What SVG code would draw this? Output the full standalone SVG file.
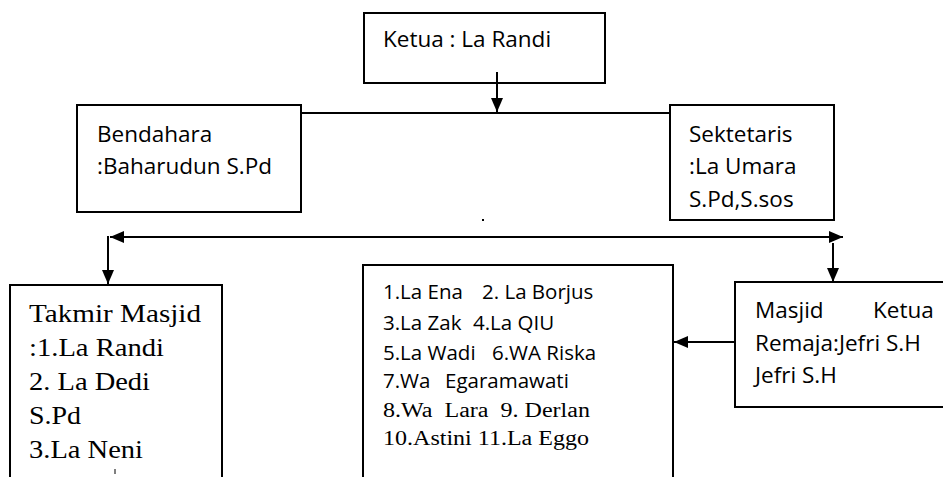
<svg xmlns="http://www.w3.org/2000/svg" width="943" height="477" viewBox="0 0 943 477">
<defs>
<marker id="arr" viewBox="0 0 14 12" refX="14" refY="6" markerWidth="14" markerHeight="12" markerUnits="userSpaceOnUse" orient="auto-start-reverse">
<path d="M0,0 L14,6 L0,12 z" fill="#000"/>
</marker>
<style>
.box{fill:#fff;stroke:#000;stroke-width:2}
.ln{fill:none;stroke:#000;stroke-width:2}
.sans{font-family:"Open Sans","Liberation Sans",sans-serif;font-size:22.5px;fill:#000}
.sm{font-family:"Open Sans","Liberation Sans",sans-serif;font-size:20.5px;fill:#000}
.serif{font-family:"Liberation Serif","Times New Roman",serif;font-size:25px;fill:#000}
.serifs{font-family:"Liberation Serif","Times New Roman",serif;font-size:20px;fill:#000}
</style>
</defs>
<rect width="943" height="477" fill="#fff"/>

<g id="connectors">
<line class="ln" x1="301" y1="113" x2="670" y2="113"/>
<line class="ln" x1="497" y1="72" x2="497" y2="112" marker-end="url(#arr)"/>
<line class="ln" x1="110" y1="237" x2="843" y2="237" marker-start="url(#arr)" marker-end="url(#arr)"/>
<line class="ln" x1="108" y1="236" x2="108" y2="284" marker-end="url(#arr)"/>
<line class="ln" x1="833" y1="243" x2="833" y2="282" marker-end="url(#arr)"/>
<line class="ln" x1="735" y1="342" x2="674" y2="342" marker-end="url(#arr)"/>
</g>

<g id="ketua">
<rect class="box" x="364" y="13" width="241" height="70"/>
<text class="sans" x="383" y="47">Ketua : La Randi</text>
</g>
<line class="ln" x1="497" y1="72" x2="497" y2="100"/>

<g id="bendahara">
<rect class="box" x="77" y="105" width="224" height="107"/>
<text class="sans" x="97" y="142">Bendahara</text>
<text class="sans" x="97" y="174">:Baharudun S.Pd</text>
</g>

<g id="sektetaris">
<rect class="box" x="670" y="105" width="164" height="115"/>
<text class="sans" x="689" y="142">Sektetaris</text>
<text class="sans" x="689" y="174">:La Umara</text>
<text class="sans" x="689" y="207">S.Pd,S.sos</text>
</g>

<rect x="482" y="219" width="2" height="2" fill="#000"/>

<g id="takmir">
<rect class="box" x="10" y="285" width="212" height="200"/>
<text class="serif" x="29" y="322" textLength="172" lengthAdjust="spacingAndGlyphs">Takmir Masjid</text>
<text class="serif" x="29" y="356" textLength="135" lengthAdjust="spacingAndGlyphs">:1.La Randi</text>
<text class="serif" x="29" y="390" textLength="121" lengthAdjust="spacingAndGlyphs">2. La Dedi</text>
<text class="serif" x="29" y="424" textLength="52" lengthAdjust="spacingAndGlyphs">S.Pd</text>
<text class="serif" x="29" y="458" textLength="114" lengthAdjust="spacingAndGlyphs">3.La Neni</text>
<line x1="115" y1="469" x2="115" y2="474" stroke="#000" stroke-width="1"/>
</g>

<g id="anggota">
<rect class="box" x="363" y="265" width="310" height="220"/>
<text class="sm" x="383" y="299">1.La Ena<tspan x="482">2. La Borjus</tspan></text>
<text class="sm" x="383" y="330">3.La Zak<tspan x="473">4.La QIU</tspan></text>
<text class="sm" x="383" y="360">5.La Wadi<tspan x="492">6.WA Riska</tspan></text>
<text class="sm" x="383" y="388">7.Wa<tspan x="445">Egaramawati</tspan></text>
<text class="serifs" x="383" y="417" textLength="207" lengthAdjust="spacingAndGlyphs" style="white-space:pre">8.Wa  Lara  9. Derlan</text>
<text class="serifs" x="383" y="445" textLength="206" lengthAdjust="spacingAndGlyphs">10.Astini 11.La Eggo</text>
</g>

<g id="remaja">
<rect class="box" x="735" y="282" width="215" height="125"/>
<text class="sans" x="755" y="318">Masjid<tspan x="873">Ketua</tspan></text>
<text class="sans" x="755" y="351">Remaja:Jefri S.H</text>
<text class="sans" x="755" y="383">Jefri S.H</text>
</g>
</svg>
